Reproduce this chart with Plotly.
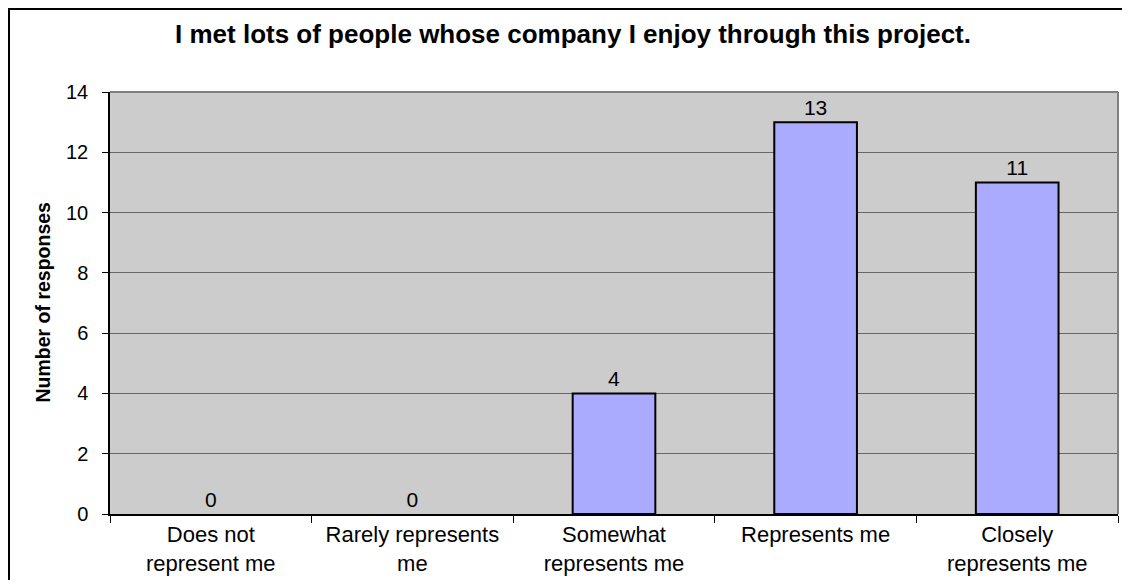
import plotly.graph_objects as go

categories = ["Does not<br>represent me", "Rarely represents<br>me", "Somewhat<br>represents me",
              "Represents me", "Closely<br>represents me"]
values = [0, 0, 4, 13, 11]
title = "I met lots of people whose company I enjoy through this project."
y_title = "Number of responses"

FONT = "Liberation Sans, Arial, sans-serif"

# page has an 8px body margin; figure sized to fit inside the window
W, H = 1114, 572
L, R, T, B = 102, 4, 84, 66
pw, ph = W - L - R, H - T - B

fig = go.Figure()
fig.add_trace(go.Bar(
    x=categories, y=values,
    marker=dict(color="#AAAAFF",
                line=dict(color="#000000", width=[2 if v > 0 else 0 for v in values])),
    width=0.41,
    text=[str(v) for v in values], textposition="outside",
    textfont=dict(family=FONT, size=21, color="#000000"),
    cliponaxis=False,
))

fig.update_layout(
    width=W, height=H,
    margin=dict(l=L, r=R, t=T, b=B, autoexpand=False),
    paper_bgcolor="#FFFFFF", plot_bgcolor="#CCCCCC",
    showlegend=False,
    title=dict(text="<b>" + title + "</b>", x=565 / W, xanchor="center",
               y=1 - 26 / H, yanchor="middle",
               font=dict(family=FONT, size=26, color="#000000")),
    font=dict(family=FONT, size=20, color="#000000"),
    xaxis=dict(showgrid=False, ticks="outside", tickson="boundaries", ticklen=7,
               tickcolor="#000000", showline=True, linecolor="#000000", linewidth=1.5,
               automargin=False,
               tickfont=dict(family=FONT, size=22, color="#000000")),
    yaxis=dict(range=[0, 14], dtick=2, ticks="outside", ticklen=6, tickcolor="#000000",
               showline=True, linecolor="#000000", linewidth=1.5,
               gridcolor="#666666", gridwidth=1, zeroline=False,
               ticklabelstandoff=10, automargin=False,
               tickfont=dict(family=FONT, size=20, color="#000000")),
    annotations=[dict(text="<b>" + y_title + "</b>", xref="paper", yref="paper",
                      x=(34.5 - L) / pw, y=(T + ph - 294) / ph,
                      xanchor="center", yanchor="middle", textangle=-90, showarrow=False,
                      font=dict(family=FONT, size=19.5, color="#000000"))],
)

# gray frame on top and right of plot area
fig.add_shape(type="line", xref="paper", yref="paper", x0=0, x1=1, y0=1, y1=1,
              line=dict(color="#808080", width=2), layer="above")
fig.add_shape(type="line", xref="paper", yref="paper", x0=1, x1=1, y0=0, y1=1,
              line=dict(color="#808080", width=2), layer="above")

# outer chart border (top and left visible)
fig.add_shape(type="rect", xref="paper", yref="paper",
              x0=(1 - L) / pw, x1=(W + 20 - L) / pw,
              y0=-(B + 20) / ph, y1=(T + ph - 1) / ph,
              line=dict(color="#000000", width=2), fillcolor="rgba(0,0,0,0)", layer="below")

fig.write_html("out.html")
